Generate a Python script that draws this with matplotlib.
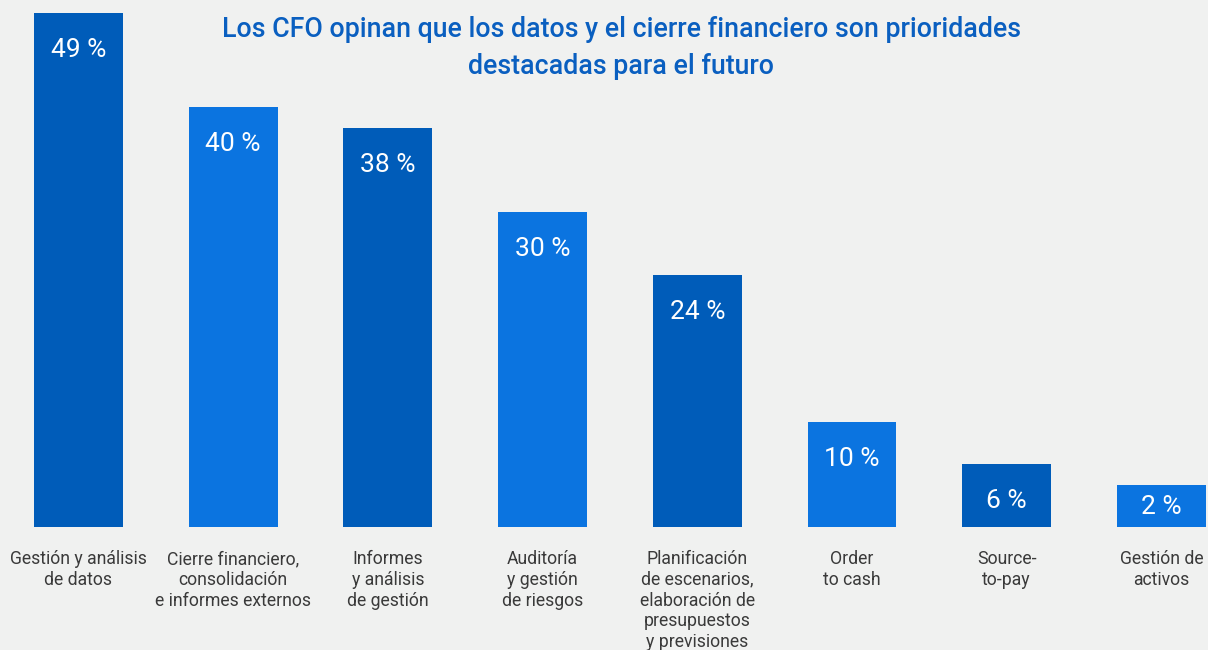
#!/usr/bin/python3

import matplotlib
matplotlib.use("Agg")
import matplotlib.pyplot as plt

categories = [
	"Gestión y análisis\nde datos",
	"Cierre financiero,\nconsolidación\ne informes externos",
	"Informes\ny análisis\nde gestión",
	"Auditoría\ny gestión\nde riesgos",
	"Planificación\nde escenarios,\nelaboración de\npresupuestos\ny previsiones",
	"Order\nto cash",
	"Source-\nto-pay",
	"Gestión de\nactivos",
]
values = [49, 40, 38, 30, 24, 10, 6, 2]
title = "Los CFO opinan que los datos y el cierre financiero son prioridades\ndestacadas para el futuro"

bg = "#f0f1f0"
dark = "#005cb9"
light = "#0b74e0"
plt.rcParams['font.family'] = ['Roboto', 'DejaVu Sans']

fig = plt.figure(figsize=(12.08, 6.5), dpi=100, facecolor=bg)
ax = fig.add_axes([0, 123 / 650, 1, 527 / 650])
ax.set_facecolor(bg)

ymax = 50.2
px = 527 / ymax  # pixels per unit

# the original keeps a minimum bar height so the label fits
heights = [max(v, 4) for v in values]
x = list(range(len(values)))
colors = [dark if i % 2 == 0 else light for i in x]
ax.bar(x, heights, width=0.575, color=colors)

ax.set_xlim(-0.507, 7.301)
ax.set_ylim(0, ymax)
for s in ax.spines.values():
	s.set_visible(False)
ax.set_xticks([])
ax.set_yticks([])

for i, v in enumerate(values):
	ly = max(heights[i] - 37 / px, 20 / px)
	ax.text(i, ly, "{} %".format(v), ha="center", va="center", color="white", fontsize=19)
	ax.annotate(categories[i], (i, 0), xytext=(0, -16.5), textcoords="offset points",
		ha="center", va="top", color="#3a3a3a", fontsize=12.7, linespacing=1.2)

fig.text(621 / 1208, 1 - 16 / 650, title, ha="center", va="top", color="#0a5fc0",
	fontsize=19.3, fontweight="medium", linespacing=1.5)

plt.savefig("out.png", facecolor=bg)
